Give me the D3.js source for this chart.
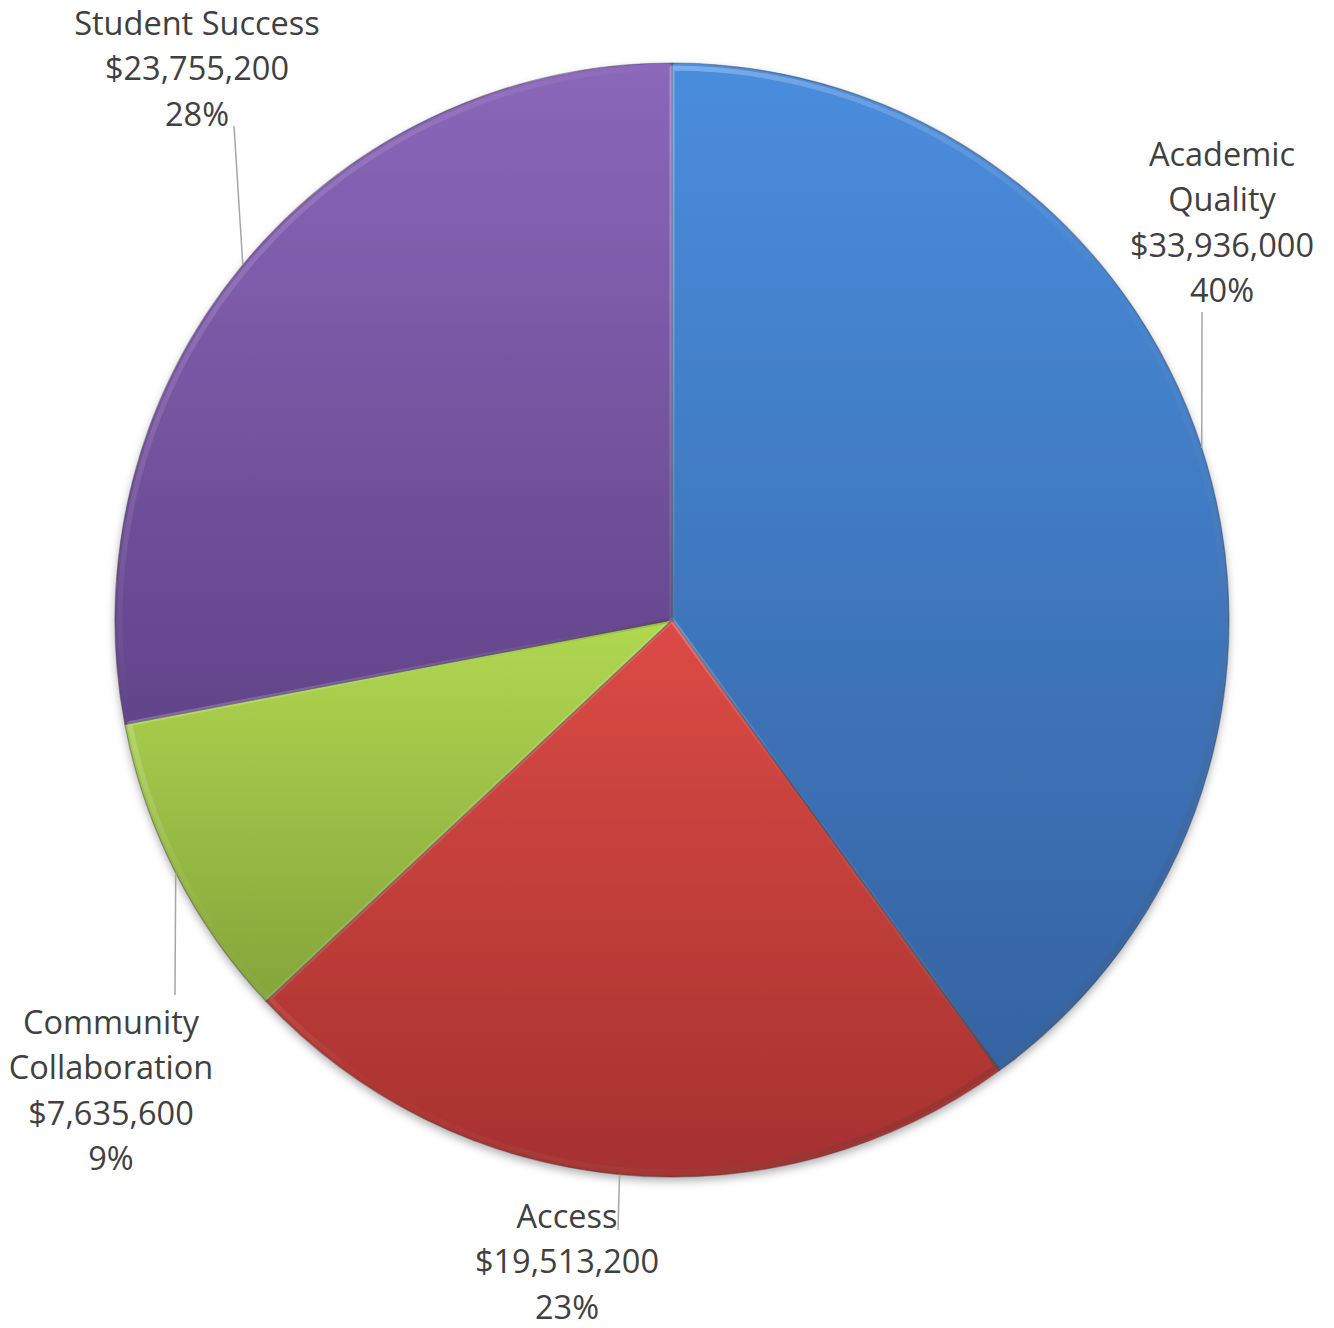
<!DOCTYPE html>
<html>
<head>
<meta charset="utf-8">
<script src="https://cdn.jsdelivr.net/npm/d3@7"></script>
<style>
  html, body { margin: 0; padding: 0; background: #ffffff; }
  svg { display: block; }
</style>
</head>
<body>
<svg id="chart" width="1334" height="1328"></svg>
<script>
// Budget allocation by strategic priority
const categories = ["Academic Quality", "Access", "Community Collaboration", "Student Success"];
const amounts = [33936000, 19513200, 7635600, 23755200];
const percentLabels = ["40%", "23%", "9%", "28%"];
const nameLines = [["Academic", "Quality"], ["Access"], ["Community", "Collaboration"], ["Student Success"]];

// Slice colours: light (top) and dark (bottom) stops
const lightColors = ["#4a8ddd", "#dc4b45", "#b1d851", "#8b67ba"];
const darkColors  = ["#3563a2", "#a5312f", "#85a43a", "#62448a"];

// Label layout: block centre x, first line centre y, and the free end of each leader
const labelLayout = {
  "Academic Quality":        { x: 1222, y: 153, lx: 1202, ly: 312 },
  "Access":                  { x: 567,  y: 1215, lx: 618, ly: 1230 },
  "Community Collaboration": { x: 111,  y: 1021, lx: 175, ly: 995 },
  "Student Success":         { x: 197,  y: 22,  lx: 234, ly: 126 }
};

const cx = 672, cy = 620, radius = 557, lineGap = 45.5;
const fmt = d3.format("$,");

const svg = d3.select("#chart");
const defs = svg.append("defs");

const shadow = defs.append("filter").attr("id", "pieShadow")
  .attr("x", "-10%").attr("y", "-10%").attr("width", "120%").attr("height", "120%");
shadow.append("feDropShadow").attr("dx", 0).attr("dy", 4)
  .attr("stdDeviation", 4).attr("flood-color", "#000").attr("flood-opacity", 0.3);

const rows = categories.map((c, i) => ({ name: c, value: amounts[i], pct: percentLabels[i], lines: nameLines[i], i }));

const pie = d3.pie().sort(null).value(d => d.value);
const arcs = pie(rows);
const arc = d3.arc().innerRadius(0).outerRadius(radius);
const inner = d3.arc().innerRadius(0).outerRadius(radius - 5);

// per-slice vertical gradients spanning each slice's bounding box
arcs.forEach((a, i) => {
  const g = defs.append("linearGradient").attr("id", "grad" + i)
    .attr("x1", 0).attr("y1", 0).attr("x2", 0).attr("y2", 1);
  g.append("stop").attr("offset", "0%").attr("stop-color", lightColors[i]);
  g.append("stop").attr("offset", "100%").attr("stop-color", darkColors[i]);
  const h = defs.append("linearGradient").attr("id", "edge" + i)
    .attr("x1", 0).attr("y1", 0).attr("x2", 1).attr("y2", 1);
  h.append("stop").attr("offset", "0%").attr("stop-color", "#ffffff").attr("stop-opacity", 0.35);
  h.append("stop").attr("offset", "50%").attr("stop-color", "#ffffff").attr("stop-opacity", 0.0);
  h.append("stop").attr("offset", "100%").attr("stop-color", "#000000").attr("stop-opacity", 0.25);
});

const pieG = svg.append("g").attr("transform", `translate(${cx},${cy})`);

pieG.append("g").attr("filter", "url(#pieShadow)")
  .selectAll("path").data(arcs).join("path")
  .attr("d", arc)
  .attr("fill", (d, i) => `url(#grad${i})`)
  .attr("stroke", "#3a3a3a").attr("stroke-opacity", 0.45).attr("stroke-width", 1.2)
  .attr("stroke-linejoin", "round");

// soft bevel rim along each slice edge
pieG.append("g").selectAll("path").data(arcs).join("path")
  .attr("d", inner)
  .attr("fill", "none")
  .attr("stroke", (d, i) => `url(#edge${i})`)
  .attr("stroke-width", 5)
  .attr("stroke-linejoin", "round")
  .attr("opacity", 0.8);

// leader lines from the slice mid-angle on the rim to the label
const rimPoint = a => {
  const ang = (a.startAngle + a.endAngle) / 2;
  return [cx + radius * Math.sin(ang), cy - radius * Math.cos(ang)];
};

svg.append("g").selectAll("line").data(arcs).join("line")
  .attr("x1", d => rimPoint(d)[0]).attr("y1", d => rimPoint(d)[1])
  .attr("x2", d => labelLayout[d.data.name].lx).attr("y2", d => labelLayout[d.data.name].ly)
  .attr("stroke", "#a6a6a6").attr("stroke-width", 1.5);

// data labels: category name, amount, percentage
const labelG = svg.append("g")
  .attr("font-family", "'Open Sans', 'Noto Sans', sans-serif")
  .attr("font-size", 32.5).attr("fill", "#404040").attr("text-anchor", "middle");

arcs.forEach(a => {
  const d = a.data;
  const L = labelLayout[d.name];
  const lines = [...d.lines, fmt(d.value), d.pct];
  const t = labelG.append("text");
  lines.forEach((s, k) => {
    t.append("tspan").attr("x", L.x).attr("y", L.y + k * lineGap)
      .attr("dominant-baseline", "central").text(s);
  });
});
</script>
</body>
</html>
